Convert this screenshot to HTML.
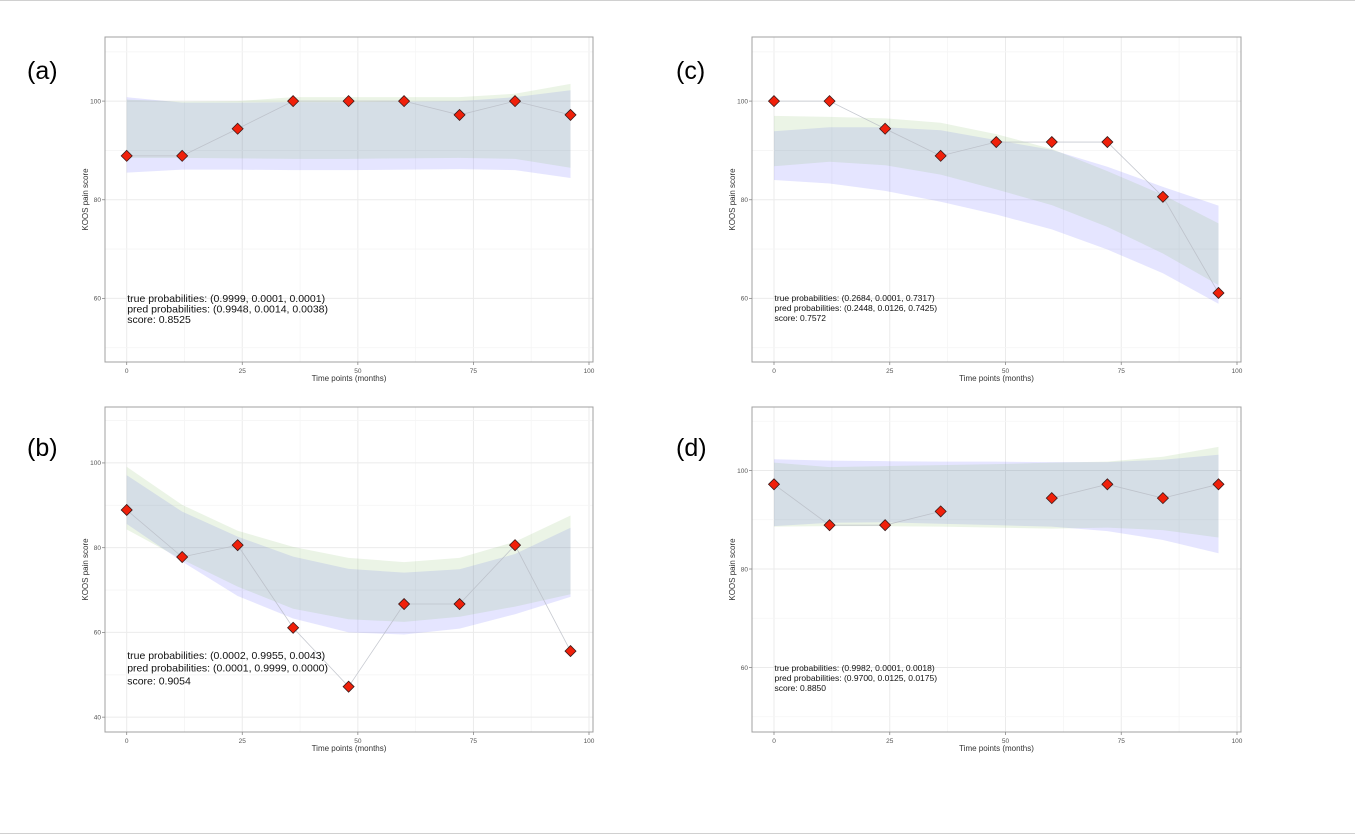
<!DOCTYPE html>
<html><head><meta charset="utf-8">
<style>
html,body{margin:0;padding:0;background:#fff;}
body{width:1355px;height:835px;position:relative;overflow:hidden;font-family:"Liberation Sans",sans-serif;}
.lab{position:absolute;font-family:"Liberation Sans",sans-serif;font-size:25px;color:#000;}
</style></head>
<body>
<div style="position:absolute;left:0;top:0;width:1355px;height:1px;background:#d0d0d0"></div>
<div style="position:absolute;left:0;top:833px;width:1355px;height:1px;background:#d0d0d0"></div>
<div class="lab" style="left:27px;top:57px">(a)</div>
<div class="lab" style="left:27px;top:434px">(b)</div>
<div class="lab" style="left:676px;top:57px">(c)</div>
<div class="lab" style="left:676px;top:434px">(d)</div>
<svg id="chart" width="1355" height="835" style="position:absolute;left:0;top:0"></svg>
<script>
const times = [0,12,24,36,48,60,72,84,96];
const xTicks = [0,25,50,75,100];

const aPoints = [88.9,88.9,94.4,100,100,100,97.2,100,97.2];
const aTrueUpper = [100.3,99.9,100.0,100.8,100.8,100.8,100.8,101.5,103.5];
const aTrueLower = [88.5,88.5,88.4,88.3,88.3,88.4,88.5,88.3,86.5];
const aPredUpper = [100.8,99.7,99.7,99.8,99.8,99.9,100.0,100.8,102.2];
const aPredLower = [85.5,86.1,86.1,86.0,86.0,86.1,86.2,86.0,84.4];
const aYTicks = [60,80,100];
const aText = ["true probabilities: (0.9999, 0.0001, 0.0001)","pred probabilities: (0.9948, 0.0014, 0.0038)","score: 0.8525"];

const bPoints = [88.9,77.8,80.6,61.1,47.2,66.7,66.7,80.6,55.6];
const bTrueUpper = [99.1,90.1,84.0,80.2,77.6,76.6,77.6,81.4,87.6];
const bTrueLower = [84.3,77.2,70.8,65.6,63.1,62.5,63.7,66.1,69.0];
const bPredUpper = [97.1,88.5,82.6,77.9,75.0,74.1,74.9,78.5,84.7];
const bPredLower = [85.6,76.7,68.6,63.3,60.0,59.5,60.9,64.3,68.4];
const bYTicks = [40,60,80,100];
const bText = ["true probabilities: (0.0002, 0.9955, 0.0043)","pred probabilities: (0.0001, 0.9999, 0.0000)","score: 0.9054"];

const cPoints = [100,100,94.4,88.9,91.7,91.7,91.7,80.6,61.1];
const cTrueUpper = [97.0,96.8,96.5,95.6,93.3,90.3,85.8,81.0,75.2];
const cTrueLower = [86.8,87.7,87.0,85.1,82.1,78.9,74.5,69.1,62.7];
const cPredUpper = [93.9,94.7,94.7,94.1,92.1,90.1,86.7,82.6,78.8];
const cPredLower = [84.0,83.3,81.8,79.6,77.0,74.0,69.9,65.1,58.9];
const cYTicks = [60,80,100];
const cText = ["true probabilities: (0.2684, 0.0001, 0.7317)","pred probabilities: (0.2448, 0.0126, 0.7425)","score: 0.7572"];

const dPoints = [97.2,88.9,88.9,91.7,null,94.4,97.2,94.4,97.2];
const dTrueUpper = [101.6,100.7,100.9,101.1,101.3,101.6,101.8,102.8,104.8];
const dTrueLower = [88.6,88.7,88.7,88.6,88.4,88.2,88.4,87.9,86.4];
const dPredUpper = [102.3,102.0,101.9,101.8,101.8,101.7,101.7,102.2,103.2];
const dPredLower = [88.7,89.4,89.5,89.2,88.9,88.6,87.7,85.9,83.2];
const dYTicks = [60,80,100];
const dText = ["true probabilities: (0.9982, 0.0001, 0.0018)","pred probabilities: (0.9700, 0.0125, 0.0175)","score: 0.8850"];

const NS = "http://www.w3.org/2000/svg";
const svg = document.getElementById('chart');
function mk(tag, attrs, parent){
  const e = document.createElementNS(NS, tag);
  for (const k in attrs) e.setAttribute(k, attrs[k]);
  (parent||svg).appendChild(e);
  return e;
}

function panel(id, box, ymin, ymax, yTicks, pts, tu, tl, pu, pl, text, fs, textTop, lh){
  const g = mk('g', {});
  
  
  // x mapping: 0 at box.x0, 100 at box.x100
  const X = v => box.x0 + (box.x100 - box.x0) * v / 100;
  const Y = v => box.bottom - (box.bottom - box.top) * (v - ymin) / (ymax - ymin);
  // grid
  const xmin = (box.left - box.x0) / (box.x100 - box.x0) * 100;
  for (let v = -12.5; v <= 112.5; v += 12.5){
    const px = X(v);
    if (px <= box.left || px >= box.right) continue;
    const major = Math.abs(v % 25) < 1e-6;
    const gl = mk('line', {x1:px, x2:px, y1:box.top, y2:box.bottom, stroke: major ? '#ebebeb' : '#f5f5f5', 'stroke-width': major ? 1 : 0.8}, g);
    
    
  }
  for (let v = Math.ceil(ymin/10)*10; v <= ymax; v += 10){
    const py = Y(v);
    const major = v % 20 === 0;
    const gl = mk('line', {x1:box.left, x2:box.right, y1:py, y2:py, stroke: major ? '#ebebeb' : '#f5f5f5', 'stroke-width': major ? 1 : 0.8}, g);
    
    
  }
  // bands
  function band(up, lo, color, op, name){
    let d = '';
    times.forEach((t,i)=>{ d += (i ? 'L' : 'M') + X(t) + ',' + Y(up[i]); });
    for (let i = times.length-1; i >= 0; i--) d += 'L' + X(times[i]) + ',' + Y(lo[i]);
    const p = mk('path', {d: d + 'Z', fill: color, 'fill-opacity': op, stroke:'none'}, g);
    
    
  }
  band(pu, pl, 'rgb(100,100,255)', 0.17, 'pred-band');
  band(tu, tl, 'rgb(120,180,90)', 0.15, 'true-band');
  // line
  let d = '', pen = false;
  times.forEach((t,i)=>{
    if (pts[i] === null){ pen = false; return; }
    d += (pen ? 'L' : 'M') + X(t) + ',' + Y(pts[i]); pen = true;
  });
  const ln = mk('path', {d: d, fill:'none', stroke:'#b8bcc4', 'stroke-width':0.8, 'stroke-opacity':0.8}, g);
  
  
  times.forEach((t,i)=>{
    if (pts[i] === null) return;
    const cx = X(t), cy = Y(pts[i]), r = 5.5;
    const m = mk('polygon', {points: `${cx},${cy-r} ${cx+r},${cy} ${cx},${cy+r} ${cx-r},${cy}`, fill:'#f0200a', stroke:'#3a1a1a', 'stroke-width':0.8}, g);
    
    
  });
  // border
  const br = mk('rect', {x:box.left, y:box.top, width:box.right-box.left, height:box.bottom-box.top, fill:'none', stroke:'#a0a0a0', 'stroke-width':1}, g);
  
  
  // ticks
  xTicks.forEach(v=>{
    const px = X(v);
    const tk = mk('line', {x1:px, x2:px, y1:box.bottom, y2:box.bottom+3, stroke:'#888', 'stroke-width':0.8}, g);
    
    
    const tx = mk('text', {x:px, y:box.bottom+11, 'font-size':6.5, fill:'#555', 'text-anchor':'middle', 'font-family':'Liberation Sans, sans-serif'}, g);
    tx.textContent = v;
    
    
  });
  yTicks.forEach(v=>{
    const py = Y(v);
    const tk = mk('line', {x1:box.left-3, x2:box.left, y1:py, y2:py, stroke:'#888', 'stroke-width':0.8}, g);
    
    
    const tx = mk('text', {x:box.left-4, y:py+2.3, 'font-size':6.5, fill:'#555', 'text-anchor':'end', 'font-family':'Liberation Sans, sans-serif'}, g);
    tx.textContent = v;
    
    
  });
  const xt = mk('text', {x:(box.left+box.right)/2, y:box.bottom+19, 'font-size':8, fill:'#333', 'text-anchor':'middle', 'font-family':'Liberation Sans, sans-serif'}, g);
  xt.textContent = 'Time points (months)';
  
  
  const yc = (box.top + box.bottom)/2, yx = box.left - 17;
  const yt = mk('text', {x:yx, y:yc, 'font-size':8, fill:'#333', 'text-anchor':'middle', transform:`rotate(-90 ${yx} ${yc})`, 'font-family':'Liberation Sans, sans-serif'}, g);
  yt.textContent = 'KOOS pain score';
  
  
  text.forEach((s,i)=>{
    const t = mk('text', {x:X(0)+0.5, y:textTop + i*lh, 'font-size':fs, fill:'#111', 'font-family':'Liberation Sans, sans-serif'}, g);
    t.textContent = s;
    
    
  });
}

panel('a', {left:105, right:593, top:37, bottom:362, x0:126.7, x100:589}, 47.1, 113.0, aYTicks, aPoints, aTrueUpper, aTrueLower, aPredUpper, aPredLower, aText, 10.5, 302, 10.5);
panel('b', {left:105, right:593, top:407, bottom:732, x0:126.7, x100:589}, 36.5, 113.2, bYTicks, bPoints, bTrueUpper, bTrueLower, bPredUpper, bPredLower, bText, 10.5, 659, 12.7);
panel('c', {left:752, right:1241, top:37, bottom:362, x0:774, x100:1237}, 47.1, 113.0, cYTicks, cPoints, cTrueUpper, cTrueLower, cPredUpper, cPredLower, cText, 8.5, 301, 10);
panel('d', {left:752, right:1241, top:407, bottom:732, x0:774, x100:1237}, 46.9, 112.9, dYTicks, dPoints, dTrueUpper, dTrueLower, dPredUpper, dPredLower, dText, 8.5, 671, 10);
</script>
</body></html>
